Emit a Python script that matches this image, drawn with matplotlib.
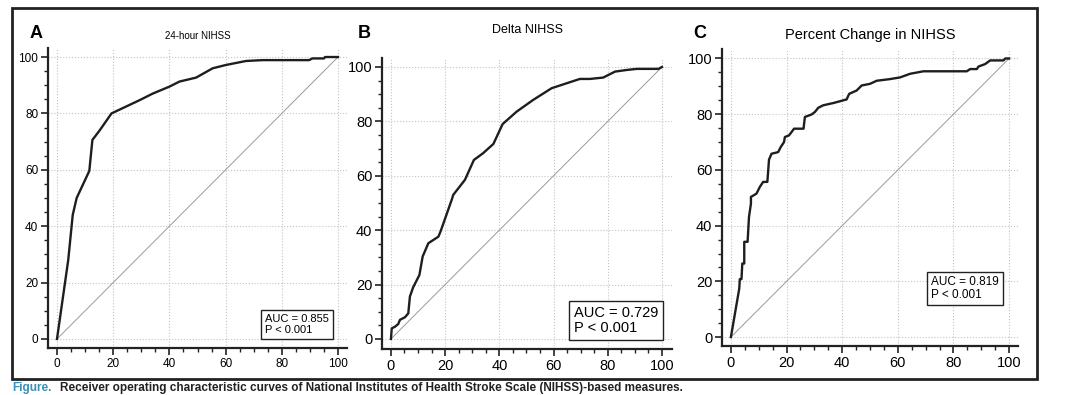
import matplotlib
matplotlib.use("Agg")
import matplotlib.pyplot as plt
from matplotlib.patches import Rectangle
from matplotlib.ticker import MultipleLocator

plt.rcParams['font.family'] = ['Liberation Sans', 'DejaVu Sans']

# ROC curves (1 - specificity, sensitivity), in percent
a_fpr = [0, 4.0, 5.6, 7.0, 11.5, 12.6, 15.2, 19.4, 29.4, 34.0, 40.0, 43.6, 49.5,
         55.4, 60.2, 67.3, 73.2, 89.7, 90.9, 95.0, 95.4, 100]
a_tpr = [0, 28, 44, 50, 59.6, 70.6, 74, 80, 84.7, 87, 89.5, 91.3, 92.7,
         96, 97.2, 98.6, 98.9, 98.9, 99.5, 99.5, 100, 100]

b_fpr = [0, 0.3, 1.5, 2.7, 3.3, 5.2, 6.4, 7.0, 8.2, 10.5, 11.7, 13.8, 17.5, 18.3,
         22.4, 23.0, 27.3, 30.6, 34.0, 37.8, 41.2, 46.4, 52.5, 59.3, 64.8, 69.7,
         73.4, 78.3, 82.7, 87.0, 90.7, 98.7, 100]
b_tpr = [0, 3.9, 4.5, 5.5, 7.0, 8.0, 9.4, 15.6, 19.0, 23.5, 30.3, 35.2, 37.6, 39.5,
         51.1, 53.0, 58.5, 65.8, 68.3, 71.7, 79.0, 83.6, 87.9, 92.2, 94.0, 95.6,
         95.6, 96.1, 98.3, 98.9, 99.3, 99.3, 100]

c_fpr = [0, 3.0, 3.2, 3.8, 4.1, 4.8, 4.8, 6.0, 6.5, 7.2, 7.2, 9.2, 10.4, 11.6, 13.1,
         13.7, 14.6, 17.0, 17.9, 19.1, 19.4, 20.9, 22.7, 26.1, 26.6, 29.0, 30.2,
         31.4, 33.2, 36.8, 41.6, 42.5, 45.2, 47.0, 50.0, 52.4, 57.2, 60.8, 64.4,
         69.2, 84.8, 86.0, 88.4, 89.0, 91.4, 93.2, 98.0, 98.6, 100]
c_tpr = [0, 17.4, 20.8, 20.8, 26.4, 26.4, 34.2, 34.2, 43.1, 47.9, 50.3, 51.5, 53.9,
         55.7, 55.7, 63.7, 65.8, 66.4, 68.2, 70.0, 71.8, 72.4, 74.8, 74.8, 79.0,
         79.9, 80.8, 82.3, 83.2, 84.0, 85.3, 87.3, 88.5, 90.3, 90.9, 92.0, 92.6,
         93.2, 94.5, 95.4, 95.4, 96.2, 96.2, 97.1, 98.0, 99.3, 99.3, 100, 100]

titles = ["24-hour NIHSS", "Delta NIHSS", "Percent Change in NIHSS"]
letters = ["A", "B", "C"]
aucs = ["0.855", "0.729", "0.819"]

fig = plt.figure(figsize=(10.8, 3.95), dpi=100)

# outer frame around the three panels
fig.add_artist(Rectangle((12 / 1080, 16 / 395), 1025 / 1080, 371 / 395,
                         transform=fig.transFigure, fill=False,
                         edgecolor="#222222", linewidth=2))


def px(x0, y_top, x1, y_bot):
    return [x0 / 1080, (395 - y_bot) / 395, (x1 - x0) / 1080, (y_bot - y_top) / 395]


panels = [
    # rect, xlim, ylim, tick size, title size, title y, box (x, y) in data, box font
    (px(48, 48, 347, 348), (-3.2, 103.2), (-3.2, 103.2), 8.5, 7, 1.03, (74, 1.5), 8),
    (px(382, 58, 672, 349), (-3.3, 103.7), (-3.7, 103.3), 10.5, 9, 1.085, (67.5, 1.5), 10.5),
    (px(722, 49, 1018, 346), (-3.2, 103.2), (-3.2, 103.4), 10.5, 10.5, 1.035, (72, 13), 8.5),
]
curves = [(a_fpr, a_tpr), (b_fpr, b_tpr), (c_fpr, c_tpr)]
letter_x = [30, 358, 693]

for i, (rect, xl, yl, tks, tts, ty, bxy, bfs) in enumerate(panels):
    ax = fig.add_axes(rect)
    ax.set_xlim(*xl)
    ax.set_ylim(*yl)
    ax.xaxis.set_major_locator(MultipleLocator(20))
    ax.yaxis.set_major_locator(MultipleLocator(20))
    ax.xaxis.set_minor_locator(MultipleLocator(5))
    ax.yaxis.set_minor_locator(MultipleLocator(5))
    ax.grid(True, which="major", color="#c4c4c4", linestyle=":", linewidth=0.8)
    for s in ["top", "right"]:
        ax.spines[s].set_visible(False)
    for s in ["left", "bottom"]:
        ax.spines[s].set_linewidth(1.6)
        ax.spines[s].set_color("#222222")
    ax.tick_params(which="major", direction="out", length=5, width=1.2,
                   labelsize=tks, color="#222222", pad=2)
    ax.tick_params(which="minor", direction="out", length=3, width=1.0,
                   color="#222222")

    ax.plot([0, 100], [0, 100], color="#9a9a9a", linewidth=0.7)
    fpr, tpr = curves[i]
    ax.plot(fpr, tpr, color="#1e1e1e", linewidth=1.7, solid_joinstyle="round")

    ax.set_title(titles[i], fontsize=tts, y=ty, pad=0)
    ax.text(bxy[0], bxy[1], "AUC = " + aucs[i] + "\nP < 0.001", fontsize=bfs,
            va="bottom", ha="left", linespacing=1.05,
            bbox=dict(boxstyle="square,pad=0.35", facecolor="white",
                      edgecolor="#222222", linewidth=1.0))

    fig.text(letter_x[i] / 1080, (395 - 33) / 395, letters[i], fontsize=13,
             fontweight="bold", va="center", ha="left")

# caption below the frame (cut off in the source, kept whole here)
fig.text(12 / 1080, 7 / 395, "Figure.", fontsize=8.5, fontweight="bold",
         color="#3a8fb7", va="center", ha="left")
fig.text(60 / 1080, 7 / 395,
         "Receiver operating characteristic curves of National Institutes of Health Stroke Scale (NIHSS)-based measures.",
         fontsize=8.5, fontweight="bold", color="#222222", va="center", ha="left")

fig.savefig("out.png", dpi=100)
